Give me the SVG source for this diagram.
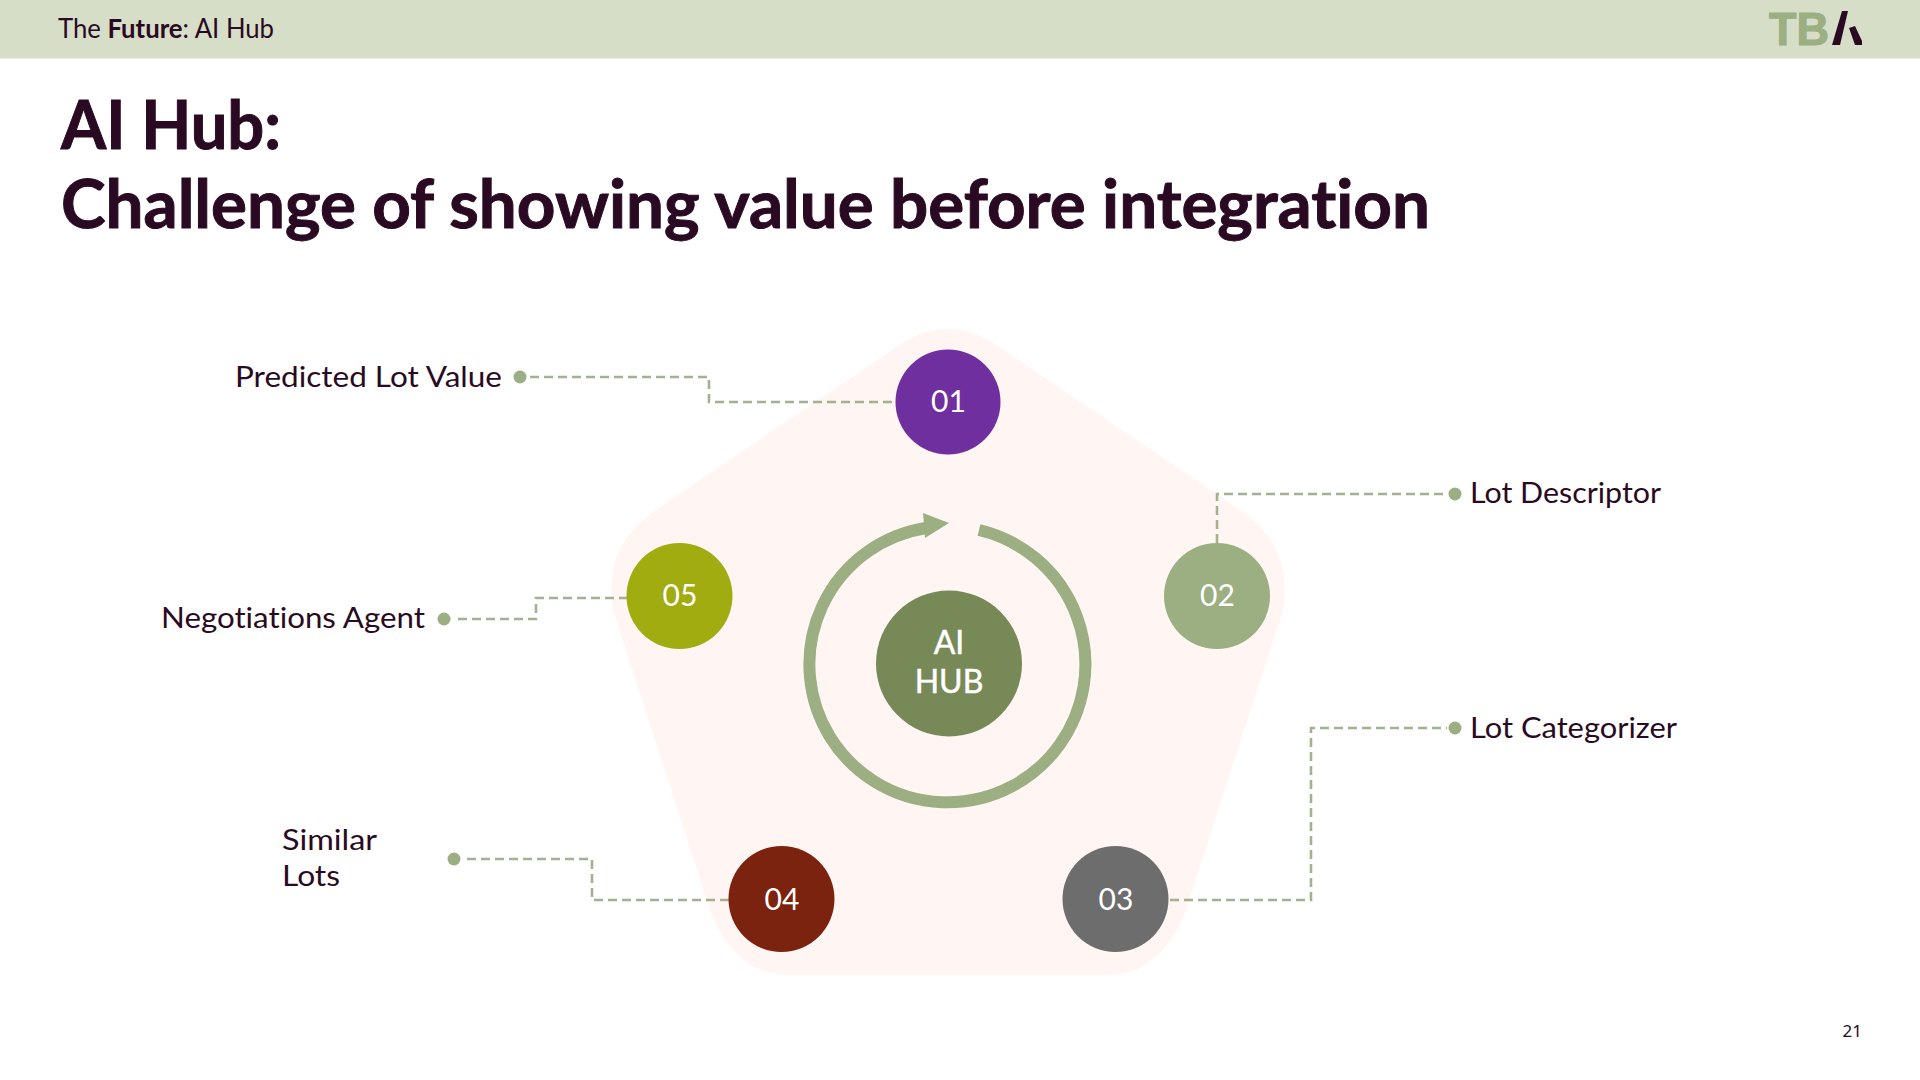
<svg xmlns="http://www.w3.org/2000/svg" width="1920" height="1080" viewBox="0 0 1920 1080">
<style>
text{font-variant-ligatures:none}
.conn{fill:none;stroke:#A3B18E;stroke-width:2.6;stroke-dasharray:9 5}
.dot{fill:#9BAF82}
.num{font-family:Lato,"Noto Sans",sans-serif;font-size:30px;fill:#fff;text-anchor:middle}
.lbl{font-family:Lato,"Noto Sans",sans-serif;font-size:29px;fill:#2A0A22}
.ttl{font-family:Lato,"Liberation Sans",sans-serif;font-size:67px;font-weight:700;fill:#2A0A22;stroke:#2A0A22;stroke-width:1}
.hub{font-family:Lato,"Noto Sans",sans-serif;font-size:32px;fill:#fff;stroke:#fff;stroke-width:.5;text-anchor:middle}
</style>
<rect width="1920" height="1080" fill="#fff"/>
<rect id="header" width="1920" height="58.5" fill="#D7DEC8"/>
<text x="58" y="38" font-family="Lato,'Noto Sans',sans-serif" font-size="27" fill="#2A0A22" textLength="216" lengthAdjust="spacingAndGlyphs">The <tspan font-weight="700">Future</tspan>: AI Hub</text>
<g id="logo">
<text x="1769" y="45" font-family="'Liberation Sans',sans-serif" font-size="46" font-weight="700" fill="#9BAF82" stroke="#9BAF82" stroke-width="1.2" textLength="60" lengthAdjust="spacingAndGlyphs">TB</text>
<polygon points="1832,45 1842,11 1848,11 1840,45" fill="#2A0A22"/>
<polygon points="1849,28 1855,26 1862,41 1862,45 1855,45" fill="#2A0A22"/>
</g>
<text class="ttl" x="61" y="149" textLength="220" lengthAdjust="spacingAndGlyphs">AI Hub:</text>
<text class="ttl" x="61" y="228" textLength="1369" lengthAdjust="spacingAndGlyphs">Challenge of showing value before integration</text>
<path id="pentagon" fill="#FFF5F2" d="M892,350 C930,322 966,322 1004,350 L1243,512 C1275,535 1290,565 1283,610 L1194,885 C1178,945 1150,975 1106,975 L790,975 C746,975 718,945 702,885 L613,610 C606,565 621,535 653,512 Z"/>
<g id="connectors">
<path class="conn" d="M530,377 H709 V402 H895"/>
<path class="conn" d="M1217,543 V494 H1447"/>
<path class="conn" d="M1170,900 H1311 V728 H1447"/>
<path class="conn" d="M729,900 H592 V859 H463"/>
<path class="conn" d="M628,598 H536 V619 H455"/>
<circle class="dot" cx="520" cy="377" r="6.5"/>
<circle class="dot" cx="1455" cy="494" r="6.5"/>
<circle class="dot" cx="1455" cy="728" r="6.5"/>
<circle class="dot" cx="454" cy="859" r="6.5"/>
<circle class="dot" cx="444" cy="619" r="6.5"/>
</g>
<g id="cycle">
<path d="M979,530 A138,138 0 1 1 926,528" fill="none" stroke="#9BAF82" stroke-width="12"/>
<polygon points="923,513 949,523 925,538" fill="#9BAF82"/>
</g>
<g id="hub"><circle cx="949" cy="663.5" r="73" fill="#768956"/><text class="hub" x="949" y="654">AI</text><text class="hub" x="949" y="693">HUB</text></g>
<g id="node-01"><circle cx="948" cy="402" r="52.5" fill="#702F9E"/><text class="num" x="948.5" y="412">01</text></g>
<g id="node-02"><circle cx="1217" cy="596" r="53" fill="#9BAF82"/><text class="num" x="1217.5" y="606">02</text></g>
<g id="node-03"><circle cx="1115.5" cy="899" r="53" fill="#6D6D6D"/><text class="num" x="1116" y="910">03</text></g>
<g id="node-04"><circle cx="781.5" cy="899" r="53" fill="#7B230F"/><text class="num" x="782" y="910">04</text></g>
<g id="node-05"><circle cx="679.5" cy="596" r="53" fill="#A0AC10"/><text class="num" x="680" y="606">05</text></g>
<text class="lbl" x="235" y="387" textLength="267" lengthAdjust="spacingAndGlyphs">Predicted Lot Value</text>
<text class="lbl" x="161" y="628" textLength="264" lengthAdjust="spacingAndGlyphs">Negotiations Agent</text>
<text class="lbl" x="282" y="850" textLength="95" lengthAdjust="spacingAndGlyphs">Similar</text>
<text class="lbl" x="282" y="886" textLength="58" lengthAdjust="spacingAndGlyphs">Lots</text>
<text class="lbl" x="1470" y="503" textLength="191" lengthAdjust="spacingAndGlyphs">Lot Descriptor</text>
<text class="lbl" x="1470" y="738" textLength="207" lengthAdjust="spacingAndGlyphs">Lot Categorizer</text>
<text x="1862" y="1037" text-anchor="end" font-family="'Noto Sans',sans-serif" font-size="17" fill="#2A0A22">21</text>
</svg>
